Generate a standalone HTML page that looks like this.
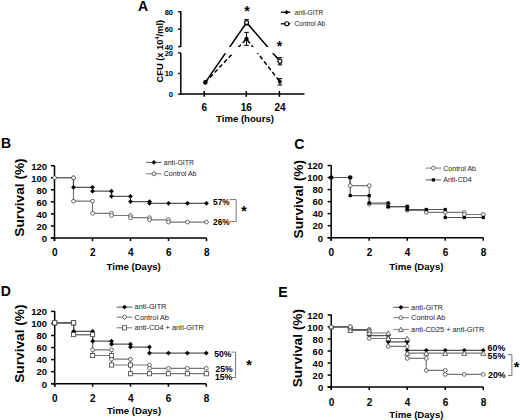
<!DOCTYPE html>
<html><head><meta charset="utf-8"><style>
html,body{margin:0;padding:0;background:#fff;width:520px;height:420px;overflow:hidden}
svg{display:block;font-family:"Liberation Sans",sans-serif}
</style></head><body>
<svg width="520" height="420" viewBox="0 0 520 420">
<rect width="520" height="420" fill="#fff"/>
<line x1="180.80" y1="11.00" x2="180.80" y2="47.00" stroke="#000" stroke-width="1.5" stroke-linecap="butt"/>
<line x1="180.80" y1="52.90" x2="180.80" y2="94.80" stroke="#000" stroke-width="1.5" stroke-linecap="butt"/>
<line x1="180.10" y1="94.10" x2="304.50" y2="94.10" stroke="#000" stroke-width="1.5" stroke-linecap="butt"/>
<line x1="178.20" y1="11.70" x2="180.80" y2="11.70" stroke="#000" stroke-width="1.5" stroke-linecap="butt"/>
<line x1="178.20" y1="29.20" x2="180.80" y2="29.20" stroke="#000" stroke-width="1.5" stroke-linecap="butt"/>
<line x1="178.20" y1="46.60" x2="180.80" y2="46.60" stroke="#000" stroke-width="1.5" stroke-linecap="butt"/>
<line x1="178.20" y1="52.90" x2="180.80" y2="52.90" stroke="#000" stroke-width="1.5" stroke-linecap="butt"/>
<line x1="178.20" y1="73.50" x2="180.80" y2="73.50" stroke="#000" stroke-width="1.5" stroke-linecap="butt"/>
<line x1="178.20" y1="94.10" x2="180.80" y2="94.10" stroke="#000" stroke-width="1.5" stroke-linecap="butt"/>
<line x1="204.20" y1="91.00" x2="204.20" y2="96.80" stroke="#000" stroke-width="1.5" stroke-linecap="butt"/>
<line x1="246.30" y1="91.00" x2="246.30" y2="96.80" stroke="#000" stroke-width="1.5" stroke-linecap="butt"/>
<line x1="279.40" y1="91.00" x2="279.40" y2="96.80" stroke="#000" stroke-width="1.5" stroke-linecap="butt"/>
<text x="173.00" y="14.60" font-size="7.5" font-weight="bold" text-anchor="end" fill="#000">80</text>
<text x="173.00" y="32.10" font-size="7.5" font-weight="bold" text-anchor="end" fill="#000">60</text>
<text x="173.00" y="49.50" font-size="7.5" font-weight="bold" text-anchor="end" fill="#000">40</text>
<text x="173.00" y="55.80" font-size="7.5" font-weight="bold" text-anchor="end" fill="#000">20</text>
<text x="173.00" y="76.40" font-size="7.5" font-weight="bold" text-anchor="end" fill="#000">10</text>
<text x="173.00" y="97.00" font-size="7.5" font-weight="bold" text-anchor="end" fill="#000">0</text>
<text x="204.20" y="110.80" font-size="10" font-weight="bold" text-anchor="middle" fill="#000">6</text>
<text x="246.30" y="110.80" font-size="10" font-weight="bold" text-anchor="middle" fill="#000">16</text>
<text x="280.00" y="110.80" font-size="10" font-weight="bold" text-anchor="middle" fill="#000">24</text>
<text x="245.00" y="122.00" font-size="9.6" font-weight="bold" text-anchor="middle" fill="#000">Time (hours)</text>
<text x="162.90" y="51.20" font-size="9.3" font-weight="bold" text-anchor="middle" fill="#000" transform="rotate(-90 162.90 51.20)">CFU (x 10<tspan font-size="5.6" dy="-3.6">4</tspan><tspan dy="3.6">/ml)</tspan></text>
<text x="138.00" y="11.10" font-size="14" font-weight="bold" text-anchor="start" fill="#000">A</text>
<g stroke="#000" stroke-width="1.5" fill="none">
<polyline points="205.3,82.4 246.6,22.6 279.9,61.3"/>
<polyline points="205.3,82.4 246.5,38.9 279.9,81.7" stroke-dasharray="4.2,2.6"/>
</g>
<rect x="182" y="47.0" width="110" height="6.2" fill="#fff"/>
<line x1="246.60" y1="19.60" x2="246.60" y2="25.00" stroke="#000" stroke-width="1.0" stroke-linecap="butt"/>
<line x1="244.30" y1="19.60" x2="248.90" y2="19.60" stroke="#000" stroke-width="1.0" stroke-linecap="butt"/>
<line x1="244.30" y1="25.00" x2="248.90" y2="25.00" stroke="#000" stroke-width="1.0" stroke-linecap="butt"/>
<line x1="246.50" y1="32.40" x2="246.50" y2="45.30" stroke="#000" stroke-width="1.0" stroke-linecap="butt"/>
<line x1="244.20" y1="32.40" x2="248.80" y2="32.40" stroke="#000" stroke-width="1.0" stroke-linecap="butt"/>
<line x1="244.20" y1="45.30" x2="248.80" y2="45.30" stroke="#000" stroke-width="1.0" stroke-linecap="butt"/>
<line x1="279.90" y1="57.70" x2="279.90" y2="64.90" stroke="#000" stroke-width="1.0" stroke-linecap="butt"/>
<line x1="277.60" y1="57.70" x2="282.20" y2="57.70" stroke="#000" stroke-width="1.0" stroke-linecap="butt"/>
<line x1="277.60" y1="64.90" x2="282.20" y2="64.90" stroke="#000" stroke-width="1.0" stroke-linecap="butt"/>
<line x1="279.90" y1="78.60" x2="279.90" y2="85.00" stroke="#000" stroke-width="1.0" stroke-linecap="butt"/>
<line x1="277.60" y1="78.60" x2="282.20" y2="78.60" stroke="#000" stroke-width="1.0" stroke-linecap="butt"/>
<line x1="277.60" y1="85.00" x2="282.20" y2="85.00" stroke="#000" stroke-width="1.0" stroke-linecap="butt"/>
<circle cx="205.30" cy="82.40" r="2.3" fill="#000"/>
<circle cx="246.60" cy="22.60" r="2.0" fill="#fff" stroke="#000" stroke-width="1.1"/>
<circle cx="246.50" cy="38.90" r="2.2" fill="#000"/>
<circle cx="279.90" cy="61.30" r="2.0" fill="#fff" stroke="#000" stroke-width="1.1"/>
<circle cx="279.90" cy="81.70" r="1.9" fill="#000"/>
<text x="247.10" y="15.50" font-size="14" font-weight="bold" text-anchor="middle" fill="#000">*</text>
<text x="279.40" y="51.00" font-size="14" font-weight="bold" text-anchor="middle" fill="#000">*</text>
<line x1="280.80" y1="12.20" x2="290.40" y2="12.20" stroke="#000" stroke-width="1.3" stroke-linecap="butt"/>
<path d="M286.60,10.00L288.80,12.20L286.60,14.40L284.40,12.20Z" fill="#000"/>
<line x1="280.80" y1="23.80" x2="290.40" y2="23.80" stroke="#000" stroke-width="1.3" stroke-linecap="butt"/>
<circle cx="286.80" cy="23.80" r="2.0" fill="#fff" stroke="#000" stroke-width="1.1"/>
<text x="294.80" y="14.90" font-size="6.6" font-weight="normal" text-anchor="start" fill="#222">anti-GITR</text>
<text x="294.50" y="26.40" font-size="6.6" font-weight="normal" text-anchor="start" fill="#222">Control Ab</text>
<line x1="54.50" y1="165.40" x2="54.50" y2="241.00" stroke="#000" stroke-width="1.5" stroke-linecap="butt"/>
<line x1="50.90" y1="238.00" x2="206.50" y2="238.00" stroke="#000" stroke-width="1.5" stroke-linecap="butt"/>
<line x1="50.90" y1="238.00" x2="54.50" y2="238.00" stroke="#000" stroke-width="1.5" stroke-linecap="butt"/>
<text x="47.10" y="241.80" font-size="9.5" font-weight="bold" text-anchor="end" fill="#000">0</text>
<line x1="50.90" y1="225.95" x2="54.50" y2="225.95" stroke="#000" stroke-width="1.5" stroke-linecap="butt"/>
<text x="47.10" y="229.75" font-size="9.5" font-weight="bold" text-anchor="end" fill="#000">20</text>
<line x1="50.90" y1="213.90" x2="54.50" y2="213.90" stroke="#000" stroke-width="1.5" stroke-linecap="butt"/>
<text x="47.10" y="217.70" font-size="9.5" font-weight="bold" text-anchor="end" fill="#000">40</text>
<line x1="50.90" y1="201.85" x2="54.50" y2="201.85" stroke="#000" stroke-width="1.5" stroke-linecap="butt"/>
<text x="47.10" y="205.65" font-size="9.5" font-weight="bold" text-anchor="end" fill="#000">60</text>
<line x1="50.90" y1="189.80" x2="54.50" y2="189.80" stroke="#000" stroke-width="1.5" stroke-linecap="butt"/>
<text x="47.10" y="193.60" font-size="9.5" font-weight="bold" text-anchor="end" fill="#000">80</text>
<line x1="50.90" y1="177.75" x2="54.50" y2="177.75" stroke="#000" stroke-width="1.5" stroke-linecap="butt"/>
<text x="47.10" y="181.55" font-size="9.5" font-weight="bold" text-anchor="end" fill="#000">100</text>
<line x1="50.90" y1="165.70" x2="54.50" y2="165.70" stroke="#000" stroke-width="1.5" stroke-linecap="butt"/>
<text x="47.10" y="169.50" font-size="9.5" font-weight="bold" text-anchor="end" fill="#000">120</text>
<line x1="54.50" y1="238.00" x2="54.50" y2="241.00" stroke="#000" stroke-width="1.5" stroke-linecap="butt"/>
<text x="54.70" y="256.20" font-size="10" font-weight="bold" text-anchor="middle" fill="#000">0</text>
<line x1="92.50" y1="238.00" x2="92.50" y2="241.00" stroke="#000" stroke-width="1.5" stroke-linecap="butt"/>
<text x="92.70" y="256.20" font-size="10" font-weight="bold" text-anchor="middle" fill="#000">2</text>
<line x1="130.50" y1="238.00" x2="130.50" y2="241.00" stroke="#000" stroke-width="1.5" stroke-linecap="butt"/>
<text x="130.70" y="256.20" font-size="10" font-weight="bold" text-anchor="middle" fill="#000">4</text>
<line x1="168.50" y1="238.00" x2="168.50" y2="241.00" stroke="#000" stroke-width="1.5" stroke-linecap="butt"/>
<text x="168.70" y="256.20" font-size="10" font-weight="bold" text-anchor="middle" fill="#000">6</text>
<line x1="206.50" y1="238.00" x2="206.50" y2="241.00" stroke="#000" stroke-width="1.5" stroke-linecap="butt"/>
<text x="206.70" y="256.20" font-size="10" font-weight="bold" text-anchor="middle" fill="#000">8</text>
<text x="0.90" y="148.10" font-size="14" font-weight="bold" text-anchor="start" fill="#000">B</text>
<text x="23.80" y="197.50" font-size="13.7" font-weight="bold" text-anchor="middle" fill="#000" transform="rotate(-90 23.80 197.50)">Survival (%)</text>
<text x="133.70" y="269.60" font-size="9.6" font-weight="bold" text-anchor="middle" fill="#000">Time (Days)</text>
<polyline points="54.50,177.75 73.50,177.75 73.50,201.10 92.50,201.10 92.50,213.30 111.50,213.30 111.50,215.50 130.50,215.50 130.50,217.70 149.50,217.70 149.50,219.80 168.50,219.80 168.50,222.10 187.50,222.10 187.50,222.10 206.50,222.10 206.50,222.10" fill="none" stroke="#777" stroke-width="1.2"/>
<polyline points="54.50,177.75 73.50,177.75 73.50,187.30 92.50,187.30 92.50,191.20 111.50,191.20 111.50,196.30 130.50,196.30 130.50,201.60 149.50,201.60 149.50,203.30 168.50,203.30 168.50,203.30 187.50,203.30 187.50,203.30 206.50,203.30 206.50,203.30" fill="none" stroke="#555" stroke-width="1.2"/>
<path d="M73.50,175.35L75.90,177.75L73.50,180.15L71.10,177.75Z" fill="#000"/>
<path d="M92.50,184.90L94.90,187.30L92.50,189.70L90.10,187.30Z" fill="#000"/>
<path d="M92.50,188.80L94.90,191.20L92.50,193.60L90.10,191.20Z" fill="#000"/>
<path d="M111.50,188.80L113.90,191.20L111.50,193.60L109.10,191.20Z" fill="#000"/>
<path d="M111.50,193.90L113.90,196.30L111.50,198.70L109.10,196.30Z" fill="#000"/>
<path d="M130.50,193.90L132.90,196.30L130.50,198.70L128.10,196.30Z" fill="#000"/>
<path d="M130.50,199.20L132.90,201.60L130.50,204.00L128.10,201.60Z" fill="#000"/>
<path d="M149.50,199.20L151.90,201.60L149.50,204.00L147.10,201.60Z" fill="#000"/>
<path d="M149.50,200.90L151.90,203.30L149.50,205.70L147.10,203.30Z" fill="#000"/>
<path d="M168.50,200.90L170.90,203.30L168.50,205.70L166.10,203.30Z" fill="#000"/>
<path d="M187.50,200.90L189.90,203.30L187.50,205.70L185.10,203.30Z" fill="#000"/>
<path d="M206.50,200.90L208.90,203.30L206.50,205.70L204.10,203.30Z" fill="#000"/>
<path d="M73.50,184.90L75.90,187.30L73.50,189.70L71.10,187.30Z" fill="#000"/>
<circle cx="54.50" cy="177.75" r="1.9" fill="#fff" stroke="#444" stroke-width="0.8"/>
<circle cx="73.50" cy="177.75" r="1.9" fill="#fff" stroke="#444" stroke-width="0.8"/>
<circle cx="73.50" cy="201.10" r="1.9" fill="#fff" stroke="#444" stroke-width="0.8"/>
<circle cx="92.50" cy="201.10" r="1.9" fill="#fff" stroke="#444" stroke-width="0.8"/>
<circle cx="92.50" cy="213.30" r="1.9" fill="#fff" stroke="#444" stroke-width="0.8"/>
<circle cx="111.50" cy="213.30" r="1.9" fill="#fff" stroke="#444" stroke-width="0.8"/>
<circle cx="111.50" cy="215.50" r="1.9" fill="#fff" stroke="#444" stroke-width="0.8"/>
<circle cx="130.50" cy="215.50" r="1.9" fill="#fff" stroke="#444" stroke-width="0.8"/>
<circle cx="130.50" cy="217.70" r="1.9" fill="#fff" stroke="#444" stroke-width="0.8"/>
<circle cx="149.50" cy="217.70" r="1.9" fill="#fff" stroke="#444" stroke-width="0.8"/>
<circle cx="149.50" cy="219.80" r="1.9" fill="#fff" stroke="#444" stroke-width="0.8"/>
<circle cx="168.50" cy="219.80" r="1.9" fill="#fff" stroke="#444" stroke-width="0.8"/>
<circle cx="168.50" cy="222.10" r="1.9" fill="#fff" stroke="#444" stroke-width="0.8"/>
<circle cx="187.50" cy="222.10" r="1.9" fill="#fff" stroke="#444" stroke-width="0.8"/>
<circle cx="206.50" cy="222.10" r="1.9" fill="#fff" stroke="#444" stroke-width="0.8"/>
<line x1="146.20" y1="162.40" x2="161.40" y2="162.40" stroke="#555" stroke-width="1" stroke-linecap="butt"/>
<path d="M153.90,160.00L156.30,162.40L153.90,164.80L151.50,162.40Z" fill="#000"/>
<line x1="146.20" y1="173.80" x2="161.40" y2="173.80" stroke="#777" stroke-width="1" stroke-linecap="butt"/>
<circle cx="153.90" cy="173.80" r="1.9" fill="#fff" stroke="#444" stroke-width="0.8"/>
<text x="163.80" y="164.90" font-size="7.0" font-weight="normal" text-anchor="start" fill="#222">anti-GITR</text>
<text x="163.80" y="176.30" font-size="7.0" font-weight="normal" text-anchor="start" fill="#222">Control Ab</text>
<text x="213.10" y="205.40" font-size="8.3" font-weight="bold" text-anchor="start" fill="#000">57%</text>
<text x="213.10" y="224.50" font-size="8.3" font-weight="bold" text-anchor="start" fill="#000">26%</text>
<polyline points="229.6,199.6 236.2,199.6 236.2,221.6 229.6,221.6" fill="none" stroke="#777" stroke-width="1"/>
<text x="243.90" y="216.00" font-size="14" font-weight="bold" text-anchor="middle" fill="#000">*</text>
<line x1="331.20" y1="165.22" x2="331.20" y2="240.70" stroke="#000" stroke-width="1.5" stroke-linecap="butt"/>
<line x1="327.60" y1="237.70" x2="483.28" y2="237.70" stroke="#000" stroke-width="1.5" stroke-linecap="butt"/>
<line x1="327.60" y1="237.70" x2="331.20" y2="237.70" stroke="#000" stroke-width="1.5" stroke-linecap="butt"/>
<text x="323.10" y="241.50" font-size="9.5" font-weight="bold" text-anchor="end" fill="#000">0</text>
<line x1="327.60" y1="225.67" x2="331.20" y2="225.67" stroke="#000" stroke-width="1.5" stroke-linecap="butt"/>
<text x="323.10" y="229.47" font-size="9.5" font-weight="bold" text-anchor="end" fill="#000">20</text>
<line x1="327.60" y1="213.64" x2="331.20" y2="213.64" stroke="#000" stroke-width="1.5" stroke-linecap="butt"/>
<text x="323.10" y="217.44" font-size="9.5" font-weight="bold" text-anchor="end" fill="#000">40</text>
<line x1="327.60" y1="201.61" x2="331.20" y2="201.61" stroke="#000" stroke-width="1.5" stroke-linecap="butt"/>
<text x="323.10" y="205.41" font-size="9.5" font-weight="bold" text-anchor="end" fill="#000">60</text>
<line x1="327.60" y1="189.58" x2="331.20" y2="189.58" stroke="#000" stroke-width="1.5" stroke-linecap="butt"/>
<text x="323.10" y="193.38" font-size="9.5" font-weight="bold" text-anchor="end" fill="#000">80</text>
<line x1="327.60" y1="177.55" x2="331.20" y2="177.55" stroke="#000" stroke-width="1.5" stroke-linecap="butt"/>
<text x="323.10" y="181.35" font-size="9.5" font-weight="bold" text-anchor="end" fill="#000">100</text>
<line x1="327.60" y1="165.52" x2="331.20" y2="165.52" stroke="#000" stroke-width="1.5" stroke-linecap="butt"/>
<text x="323.10" y="169.32" font-size="9.5" font-weight="bold" text-anchor="end" fill="#000">120</text>
<line x1="331.20" y1="237.70" x2="331.20" y2="240.70" stroke="#000" stroke-width="1.5" stroke-linecap="butt"/>
<text x="331.40" y="256.00" font-size="10" font-weight="bold" text-anchor="middle" fill="#000">0</text>
<line x1="369.22" y1="237.70" x2="369.22" y2="240.70" stroke="#000" stroke-width="1.5" stroke-linecap="butt"/>
<text x="369.42" y="256.00" font-size="10" font-weight="bold" text-anchor="middle" fill="#000">2</text>
<line x1="407.24" y1="237.70" x2="407.24" y2="240.70" stroke="#000" stroke-width="1.5" stroke-linecap="butt"/>
<text x="407.44" y="256.00" font-size="10" font-weight="bold" text-anchor="middle" fill="#000">4</text>
<line x1="445.26" y1="237.70" x2="445.26" y2="240.70" stroke="#000" stroke-width="1.5" stroke-linecap="butt"/>
<text x="445.46" y="256.00" font-size="10" font-weight="bold" text-anchor="middle" fill="#000">6</text>
<line x1="483.28" y1="237.70" x2="483.28" y2="240.70" stroke="#000" stroke-width="1.5" stroke-linecap="butt"/>
<text x="483.48" y="256.00" font-size="10" font-weight="bold" text-anchor="middle" fill="#000">8</text>
<text x="294.20" y="148.90" font-size="14" font-weight="bold" text-anchor="start" fill="#000">C</text>
<text x="302.90" y="199.20" font-size="13.7" font-weight="bold" text-anchor="middle" fill="#000" transform="rotate(-90 302.90 199.20)">Survival (%)</text>
<text x="416.40" y="269.60" font-size="9.6" font-weight="bold" text-anchor="middle" fill="#000">Time (Days)</text>
<polyline points="331.20,177.50 350.21,177.50 350.21,185.60 369.22,185.60 369.22,204.00 388.23,204.00 388.23,206.90 407.24,206.90 407.24,210.30 426.25,210.30 426.25,212.40 445.26,212.40 445.26,212.40 464.27,212.40 464.27,214.50 483.28,214.50 483.28,214.50" fill="none" stroke="#777" stroke-width="1.2"/>
<polyline points="331.20,177.50 350.21,177.50 350.21,195.60 369.22,195.60 369.22,203.00 388.23,203.00 388.23,206.50 407.24,206.50 407.24,209.50 426.25,209.50 426.25,209.50 445.26,209.50 445.26,217.50 464.27,217.50 464.27,217.50 483.28,217.50 483.28,217.50" fill="none" stroke="#555" stroke-width="1.2"/>
<circle cx="331.20" cy="177.50" r="1.9" fill="#fff" stroke="#444" stroke-width="0.8"/>
<circle cx="350.21" cy="177.50" r="1.9" fill="#fff" stroke="#444" stroke-width="0.8"/>
<circle cx="350.21" cy="185.60" r="1.9" fill="#fff" stroke="#444" stroke-width="0.8"/>
<circle cx="369.22" cy="185.60" r="1.9" fill="#fff" stroke="#444" stroke-width="0.8"/>
<circle cx="369.22" cy="204.00" r="1.9" fill="#fff" stroke="#444" stroke-width="0.8"/>
<circle cx="388.23" cy="204.00" r="1.9" fill="#fff" stroke="#444" stroke-width="0.8"/>
<circle cx="388.23" cy="206.90" r="1.9" fill="#fff" stroke="#444" stroke-width="0.8"/>
<circle cx="407.24" cy="206.90" r="1.9" fill="#fff" stroke="#444" stroke-width="0.8"/>
<circle cx="407.24" cy="210.30" r="1.9" fill="#fff" stroke="#444" stroke-width="0.8"/>
<circle cx="426.25" cy="210.30" r="1.9" fill="#fff" stroke="#444" stroke-width="0.8"/>
<circle cx="426.25" cy="212.40" r="1.9" fill="#fff" stroke="#444" stroke-width="0.8"/>
<circle cx="445.26" cy="212.40" r="1.9" fill="#fff" stroke="#444" stroke-width="0.8"/>
<circle cx="464.27" cy="212.40" r="1.9" fill="#fff" stroke="#444" stroke-width="0.8"/>
<circle cx="464.27" cy="214.50" r="1.9" fill="#fff" stroke="#444" stroke-width="0.8"/>
<circle cx="483.28" cy="214.50" r="1.9" fill="#fff" stroke="#444" stroke-width="0.8"/>
<rect x="329.60" y="175.90" width="3.2" height="3.2" fill="#000"/>
<rect x="348.61" y="175.90" width="3.2" height="3.2" fill="#000"/>
<rect x="348.61" y="194.00" width="3.2" height="3.2" fill="#000"/>
<rect x="367.62" y="194.00" width="3.2" height="3.2" fill="#000"/>
<rect x="367.62" y="201.40" width="3.2" height="3.2" fill="#000"/>
<rect x="386.63" y="201.40" width="3.2" height="3.2" fill="#000"/>
<rect x="386.63" y="204.90" width="3.2" height="3.2" fill="#000"/>
<rect x="405.64" y="204.90" width="3.2" height="3.2" fill="#000"/>
<rect x="405.64" y="207.90" width="3.2" height="3.2" fill="#000"/>
<rect x="424.65" y="207.90" width="3.2" height="3.2" fill="#000"/>
<rect x="443.66" y="207.90" width="3.2" height="3.2" fill="#000"/>
<rect x="443.66" y="215.90" width="3.2" height="3.2" fill="#000"/>
<rect x="462.67" y="215.90" width="3.2" height="3.2" fill="#000"/>
<rect x="481.68" y="215.90" width="3.2" height="3.2" fill="#000"/>
<circle cx="331.20" cy="177.50" r="2.0" fill="#000"/>
<circle cx="350.21" cy="177.50" r="2.0" fill="#000"/>
<line x1="425.80" y1="168.10" x2="441.20" y2="168.10" stroke="#777" stroke-width="1" stroke-linecap="butt"/>
<circle cx="433.40" cy="168.10" r="1.9" fill="#fff" stroke="#444" stroke-width="0.8"/>
<line x1="425.80" y1="179.90" x2="441.20" y2="179.90" stroke="#555" stroke-width="1" stroke-linecap="butt"/>
<rect x="431.80" y="178.30" width="3.2" height="3.2" fill="#000"/>
<text x="443.30" y="170.60" font-size="7.0" font-weight="normal" text-anchor="start" fill="#222">Control Ab</text>
<text x="443.30" y="182.40" font-size="7.0" font-weight="normal" text-anchor="start" fill="#222">Anti-CD4</text>
<line x1="54.70" y1="311.10" x2="54.70" y2="386.70" stroke="#000" stroke-width="1.5" stroke-linecap="butt"/>
<line x1="51.10" y1="383.70" x2="206.30" y2="383.70" stroke="#000" stroke-width="1.5" stroke-linecap="butt"/>
<line x1="51.10" y1="383.70" x2="54.70" y2="383.70" stroke="#000" stroke-width="1.5" stroke-linecap="butt"/>
<text x="47.10" y="387.50" font-size="9.5" font-weight="bold" text-anchor="end" fill="#000">0</text>
<line x1="51.10" y1="371.65" x2="54.70" y2="371.65" stroke="#000" stroke-width="1.5" stroke-linecap="butt"/>
<text x="47.10" y="375.45" font-size="9.5" font-weight="bold" text-anchor="end" fill="#000">20</text>
<line x1="51.10" y1="359.60" x2="54.70" y2="359.60" stroke="#000" stroke-width="1.5" stroke-linecap="butt"/>
<text x="47.10" y="363.40" font-size="9.5" font-weight="bold" text-anchor="end" fill="#000">40</text>
<line x1="51.10" y1="347.55" x2="54.70" y2="347.55" stroke="#000" stroke-width="1.5" stroke-linecap="butt"/>
<text x="47.10" y="351.35" font-size="9.5" font-weight="bold" text-anchor="end" fill="#000">60</text>
<line x1="51.10" y1="335.50" x2="54.70" y2="335.50" stroke="#000" stroke-width="1.5" stroke-linecap="butt"/>
<text x="47.10" y="339.30" font-size="9.5" font-weight="bold" text-anchor="end" fill="#000">80</text>
<line x1="51.10" y1="323.45" x2="54.70" y2="323.45" stroke="#000" stroke-width="1.5" stroke-linecap="butt"/>
<text x="47.10" y="327.25" font-size="9.5" font-weight="bold" text-anchor="end" fill="#000">100</text>
<line x1="51.10" y1="311.40" x2="54.70" y2="311.40" stroke="#000" stroke-width="1.5" stroke-linecap="butt"/>
<text x="47.10" y="315.20" font-size="9.5" font-weight="bold" text-anchor="end" fill="#000">120</text>
<line x1="54.70" y1="383.70" x2="54.70" y2="386.70" stroke="#000" stroke-width="1.5" stroke-linecap="butt"/>
<text x="54.90" y="401.50" font-size="10" font-weight="bold" text-anchor="middle" fill="#000">0</text>
<line x1="92.60" y1="383.70" x2="92.60" y2="386.70" stroke="#000" stroke-width="1.5" stroke-linecap="butt"/>
<text x="92.80" y="401.50" font-size="10" font-weight="bold" text-anchor="middle" fill="#000">2</text>
<line x1="130.50" y1="383.70" x2="130.50" y2="386.70" stroke="#000" stroke-width="1.5" stroke-linecap="butt"/>
<text x="130.70" y="401.50" font-size="10" font-weight="bold" text-anchor="middle" fill="#000">4</text>
<line x1="168.40" y1="383.70" x2="168.40" y2="386.70" stroke="#000" stroke-width="1.5" stroke-linecap="butt"/>
<text x="168.60" y="401.50" font-size="10" font-weight="bold" text-anchor="middle" fill="#000">6</text>
<line x1="206.30" y1="383.70" x2="206.30" y2="386.70" stroke="#000" stroke-width="1.5" stroke-linecap="butt"/>
<text x="206.50" y="401.50" font-size="10" font-weight="bold" text-anchor="middle" fill="#000">8</text>
<text x="0.85" y="296.10" font-size="14" font-weight="bold" text-anchor="start" fill="#000">D</text>
<text x="23.80" y="343.60" font-size="13.7" font-weight="bold" text-anchor="middle" fill="#000" transform="rotate(-90 23.80 343.60)">Survival (%)</text>
<text x="134.00" y="413.60" font-size="9.6" font-weight="bold" text-anchor="middle" fill="#000">Time (Days)</text>
<polyline points="54.70,322.80 73.65,322.80 73.65,334.60 92.60,334.60 92.60,355.50 111.55,355.50 111.55,365.00 130.50,365.00 130.50,373.70 149.45,373.70 149.45,373.70 168.40,373.70 168.40,373.70 187.35,373.70 187.35,373.70 206.30,373.70 206.30,373.70" fill="none" stroke="#777" stroke-width="1.2"/>
<polyline points="54.70,322.80 73.65,322.80 73.65,334.60 92.60,334.60 92.60,349.80 111.55,349.80 111.55,359.20 130.50,359.20 130.50,365.00 149.45,365.00 149.45,368.30 168.40,368.30 168.40,368.30 187.35,368.30 187.35,368.30 206.30,368.30 206.30,368.30" fill="none" stroke="#777" stroke-width="1.2"/>
<polyline points="54.70,322.80 73.65,322.80 73.65,331.30 92.60,331.30 92.60,341.20 111.55,341.20 111.55,344.20 130.50,344.20 130.50,347.10 149.45,347.10 149.45,353.10 168.40,353.10 168.40,353.10 187.35,353.10 187.35,353.10 206.30,353.10 206.30,353.10" fill="none" stroke="#555" stroke-width="1.2"/>
<path d="M54.70,320.40L57.10,322.80L54.70,325.20L52.30,322.80Z" fill="#000"/>
<path d="M73.65,320.40L76.05,322.80L73.65,325.20L71.25,322.80Z" fill="#000"/>
<path d="M73.65,328.90L76.05,331.30L73.65,333.70L71.25,331.30Z" fill="#000"/>
<path d="M92.60,328.90L95.00,331.30L92.60,333.70L90.20,331.30Z" fill="#000"/>
<path d="M92.60,338.80L95.00,341.20L92.60,343.60L90.20,341.20Z" fill="#000"/>
<path d="M111.55,338.80L113.95,341.20L111.55,343.60L109.15,341.20Z" fill="#000"/>
<path d="M111.55,341.80L113.95,344.20L111.55,346.60L109.15,344.20Z" fill="#000"/>
<path d="M130.50,341.80L132.90,344.20L130.50,346.60L128.10,344.20Z" fill="#000"/>
<path d="M130.50,344.70L132.90,347.10L130.50,349.50L128.10,347.10Z" fill="#000"/>
<path d="M149.45,344.70L151.85,347.10L149.45,349.50L147.05,347.10Z" fill="#000"/>
<path d="M149.45,350.70L151.85,353.10L149.45,355.50L147.05,353.10Z" fill="#000"/>
<path d="M168.40,350.70L170.80,353.10L168.40,355.50L166.00,353.10Z" fill="#000"/>
<path d="M187.35,350.70L189.75,353.10L187.35,355.50L184.95,353.10Z" fill="#000"/>
<path d="M206.30,350.70L208.70,353.10L206.30,355.50L203.90,353.10Z" fill="#000"/>
<circle cx="54.70" cy="322.80" r="1.9" fill="#fff" stroke="#444" stroke-width="0.8"/>
<circle cx="73.65" cy="322.80" r="1.9" fill="#fff" stroke="#444" stroke-width="0.8"/>
<circle cx="73.65" cy="334.60" r="1.9" fill="#fff" stroke="#444" stroke-width="0.8"/>
<circle cx="92.60" cy="334.60" r="1.9" fill="#fff" stroke="#444" stroke-width="0.8"/>
<circle cx="92.60" cy="349.80" r="1.9" fill="#fff" stroke="#444" stroke-width="0.8"/>
<circle cx="111.55" cy="349.80" r="1.9" fill="#fff" stroke="#444" stroke-width="0.8"/>
<circle cx="111.55" cy="359.20" r="1.9" fill="#fff" stroke="#444" stroke-width="0.8"/>
<circle cx="130.50" cy="359.20" r="1.9" fill="#fff" stroke="#444" stroke-width="0.8"/>
<circle cx="130.50" cy="365.00" r="1.9" fill="#fff" stroke="#444" stroke-width="0.8"/>
<circle cx="149.45" cy="365.00" r="1.9" fill="#fff" stroke="#444" stroke-width="0.8"/>
<circle cx="149.45" cy="368.30" r="1.9" fill="#fff" stroke="#444" stroke-width="0.8"/>
<circle cx="168.40" cy="368.30" r="1.9" fill="#fff" stroke="#444" stroke-width="0.8"/>
<circle cx="187.35" cy="368.30" r="1.9" fill="#fff" stroke="#444" stroke-width="0.8"/>
<circle cx="206.30" cy="368.30" r="1.9" fill="#fff" stroke="#444" stroke-width="0.8"/>
<rect x="52.60" y="320.70" width="4.2" height="4.2" fill="#fff" stroke="#444" stroke-width="0.8"/>
<rect x="71.55" y="320.70" width="4.2" height="4.2" fill="#fff" stroke="#444" stroke-width="0.8"/>
<rect x="71.55" y="332.50" width="4.2" height="4.2" fill="#fff" stroke="#444" stroke-width="0.8"/>
<rect x="90.50" y="332.50" width="4.2" height="4.2" fill="#fff" stroke="#444" stroke-width="0.8"/>
<rect x="90.50" y="353.40" width="4.2" height="4.2" fill="#fff" stroke="#444" stroke-width="0.8"/>
<rect x="109.45" y="353.40" width="4.2" height="4.2" fill="#fff" stroke="#444" stroke-width="0.8"/>
<rect x="109.45" y="362.90" width="4.2" height="4.2" fill="#fff" stroke="#444" stroke-width="0.8"/>
<rect x="128.40" y="362.90" width="4.2" height="4.2" fill="#fff" stroke="#444" stroke-width="0.8"/>
<rect x="128.40" y="371.60" width="4.2" height="4.2" fill="#fff" stroke="#444" stroke-width="0.8"/>
<rect x="147.35" y="371.60" width="4.2" height="4.2" fill="#fff" stroke="#444" stroke-width="0.8"/>
<rect x="166.30" y="371.60" width="4.2" height="4.2" fill="#fff" stroke="#444" stroke-width="0.8"/>
<rect x="185.25" y="371.60" width="4.2" height="4.2" fill="#fff" stroke="#444" stroke-width="0.8"/>
<rect x="204.20" y="371.60" width="4.2" height="4.2" fill="#fff" stroke="#444" stroke-width="0.8"/>
<rect x="52.60" y="320.70" width="4.2" height="4.2" fill="#fff" stroke="#444" stroke-width="0.8"/>
<rect x="71.55" y="320.70" width="4.2" height="4.2" fill="#fff" stroke="#444" stroke-width="0.8"/>
<line x1="116.60" y1="307.10" x2="132.50" y2="307.10" stroke="#555" stroke-width="1" stroke-linecap="butt"/>
<path d="M124.50,304.70L126.90,307.10L124.50,309.50L122.10,307.10Z" fill="#000"/>
<line x1="116.60" y1="317.20" x2="132.50" y2="317.20" stroke="#777" stroke-width="1" stroke-linecap="butt"/>
<circle cx="124.50" cy="317.20" r="1.9" fill="#fff" stroke="#444" stroke-width="0.8"/>
<line x1="116.60" y1="327.80" x2="132.50" y2="327.80" stroke="#777" stroke-width="1" stroke-linecap="butt"/>
<rect x="122.40" y="325.70" width="4.2" height="4.2" fill="#fff" stroke="#444" stroke-width="0.8"/>
<text x="134.60" y="309.40" font-size="7.35" font-weight="normal" text-anchor="start" fill="#222">anti-GITR</text>
<text x="134.60" y="319.50" font-size="7.35" font-weight="normal" text-anchor="start" fill="#222">Control Ab</text>
<text x="134.60" y="330.10" font-size="7.35" font-weight="normal" text-anchor="start" fill="#222">anti-CD4 + anti-GITR</text>
<text x="214.30" y="356.90" font-size="8.6" font-weight="bold" text-anchor="start" fill="#000">50%</text>
<text x="215.40" y="371.90" font-size="8.6" font-weight="bold" text-anchor="start" fill="#000">25%</text>
<text x="215.00" y="380.00" font-size="8.6" font-weight="bold" text-anchor="start" fill="#000">15%</text>
<polyline points="231.3,352.1 235.6,352.1 235.6,377.5 231.9,377.5" fill="none" stroke="#777" stroke-width="1"/>
<text x="249.00" y="370.30" font-size="14.5" font-weight="bold" text-anchor="middle" fill="#000">*</text>
<line x1="331.25" y1="314.62" x2="331.25" y2="390.10" stroke="#000" stroke-width="1.5" stroke-linecap="butt"/>
<line x1="327.65" y1="387.10" x2="483.25" y2="387.10" stroke="#000" stroke-width="1.5" stroke-linecap="butt"/>
<line x1="327.65" y1="387.10" x2="331.25" y2="387.10" stroke="#000" stroke-width="1.5" stroke-linecap="butt"/>
<text x="323.20" y="390.90" font-size="9.5" font-weight="bold" text-anchor="end" fill="#000">0</text>
<line x1="327.65" y1="375.07" x2="331.25" y2="375.07" stroke="#000" stroke-width="1.5" stroke-linecap="butt"/>
<text x="323.20" y="378.87" font-size="9.5" font-weight="bold" text-anchor="end" fill="#000">20</text>
<line x1="327.65" y1="363.04" x2="331.25" y2="363.04" stroke="#000" stroke-width="1.5" stroke-linecap="butt"/>
<text x="323.20" y="366.84" font-size="9.5" font-weight="bold" text-anchor="end" fill="#000">40</text>
<line x1="327.65" y1="351.01" x2="331.25" y2="351.01" stroke="#000" stroke-width="1.5" stroke-linecap="butt"/>
<text x="323.20" y="354.81" font-size="9.5" font-weight="bold" text-anchor="end" fill="#000">60</text>
<line x1="327.65" y1="338.98" x2="331.25" y2="338.98" stroke="#000" stroke-width="1.5" stroke-linecap="butt"/>
<text x="323.20" y="342.78" font-size="9.5" font-weight="bold" text-anchor="end" fill="#000">80</text>
<line x1="327.65" y1="326.95" x2="331.25" y2="326.95" stroke="#000" stroke-width="1.5" stroke-linecap="butt"/>
<text x="323.20" y="330.75" font-size="9.5" font-weight="bold" text-anchor="end" fill="#000">100</text>
<line x1="327.65" y1="314.92" x2="331.25" y2="314.92" stroke="#000" stroke-width="1.5" stroke-linecap="butt"/>
<text x="323.20" y="318.72" font-size="9.5" font-weight="bold" text-anchor="end" fill="#000">120</text>
<line x1="331.25" y1="387.10" x2="331.25" y2="390.10" stroke="#000" stroke-width="1.5" stroke-linecap="butt"/>
<text x="331.45" y="405.60" font-size="10" font-weight="bold" text-anchor="middle" fill="#000">0</text>
<line x1="369.25" y1="387.10" x2="369.25" y2="390.10" stroke="#000" stroke-width="1.5" stroke-linecap="butt"/>
<text x="369.45" y="405.60" font-size="10" font-weight="bold" text-anchor="middle" fill="#000">2</text>
<line x1="407.25" y1="387.10" x2="407.25" y2="390.10" stroke="#000" stroke-width="1.5" stroke-linecap="butt"/>
<text x="407.45" y="405.60" font-size="10" font-weight="bold" text-anchor="middle" fill="#000">4</text>
<line x1="445.25" y1="387.10" x2="445.25" y2="390.10" stroke="#000" stroke-width="1.5" stroke-linecap="butt"/>
<text x="445.45" y="405.60" font-size="10" font-weight="bold" text-anchor="middle" fill="#000">6</text>
<line x1="483.25" y1="387.10" x2="483.25" y2="390.10" stroke="#000" stroke-width="1.5" stroke-linecap="butt"/>
<text x="483.45" y="405.60" font-size="10" font-weight="bold" text-anchor="middle" fill="#000">8</text>
<text x="278.30" y="296.50" font-size="14" font-weight="bold" text-anchor="start" fill="#000">E</text>
<text x="301.70" y="348.10" font-size="13.7" font-weight="bold" text-anchor="middle" fill="#000" transform="rotate(-90 301.70 348.10)">Survival (%)</text>
<text x="416.40" y="417.80" font-size="9.6" font-weight="bold" text-anchor="middle" fill="#000">Time (Days)</text>
<polyline points="331.25,326.90 350.25,326.90 350.25,329.50 369.25,329.50 369.25,338.50 388.25,338.50 388.25,346.40 407.25,346.40 407.25,358.40 426.25,358.40 426.25,370.40 445.25,370.40 445.25,374.40 464.25,374.40 464.25,374.40 483.25,374.40 483.25,374.40" fill="none" stroke="#777" stroke-width="1.2"/>
<polyline points="331.25,326.90 350.25,326.90 350.25,330.30 369.25,330.30 369.25,333.00 388.25,333.00 388.25,338.50 407.25,338.50 407.25,353.20 426.25,353.20 426.25,353.20 445.25,353.20 445.25,353.20 464.25,353.20 464.25,353.20 483.25,353.20 483.25,353.20" fill="none" stroke="#777" stroke-width="1.2"/>
<polyline points="331.25,326.90 350.25,326.90 350.25,329.70 369.25,329.70 369.25,335.60 388.25,335.60 388.25,341.80 407.25,341.80 407.25,350.30 426.25,350.30 426.25,350.30 445.25,350.30 445.25,350.30 464.25,350.30 464.25,350.30 483.25,350.30 483.25,350.30" fill="none" stroke="#555" stroke-width="1.2"/>
<path d="M331.25,324.50L333.65,326.90L331.25,329.30L328.85,326.90Z" fill="#000"/>
<path d="M350.25,324.50L352.65,326.90L350.25,329.30L347.85,326.90Z" fill="#000"/>
<path d="M350.25,327.30L352.65,329.70L350.25,332.10L347.85,329.70Z" fill="#000"/>
<path d="M369.25,327.30L371.65,329.70L369.25,332.10L366.85,329.70Z" fill="#000"/>
<path d="M369.25,333.20L371.65,335.60L369.25,338.00L366.85,335.60Z" fill="#000"/>
<path d="M388.25,333.20L390.65,335.60L388.25,338.00L385.85,335.60Z" fill="#000"/>
<path d="M388.25,339.40L390.65,341.80L388.25,344.20L385.85,341.80Z" fill="#000"/>
<path d="M407.25,339.40L409.65,341.80L407.25,344.20L404.85,341.80Z" fill="#000"/>
<path d="M407.25,347.90L409.65,350.30L407.25,352.70L404.85,350.30Z" fill="#000"/>
<path d="M426.25,347.90L428.65,350.30L426.25,352.70L423.85,350.30Z" fill="#000"/>
<path d="M445.25,347.90L447.65,350.30L445.25,352.70L442.85,350.30Z" fill="#000"/>
<path d="M464.25,347.90L466.65,350.30L464.25,352.70L461.85,350.30Z" fill="#000"/>
<path d="M483.25,347.90L485.65,350.30L483.25,352.70L480.85,350.30Z" fill="#000"/>
<circle cx="331.25" cy="326.90" r="1.9" fill="#fff" stroke="#444" stroke-width="0.8"/>
<circle cx="350.25" cy="326.90" r="1.9" fill="#fff" stroke="#444" stroke-width="0.8"/>
<circle cx="350.25" cy="329.50" r="1.9" fill="#fff" stroke="#444" stroke-width="0.8"/>
<circle cx="369.25" cy="329.50" r="1.9" fill="#fff" stroke="#444" stroke-width="0.8"/>
<circle cx="369.25" cy="338.50" r="1.9" fill="#fff" stroke="#444" stroke-width="0.8"/>
<circle cx="388.25" cy="338.50" r="1.9" fill="#fff" stroke="#444" stroke-width="0.8"/>
<circle cx="388.25" cy="346.40" r="1.9" fill="#fff" stroke="#444" stroke-width="0.8"/>
<circle cx="407.25" cy="346.40" r="1.9" fill="#fff" stroke="#444" stroke-width="0.8"/>
<circle cx="407.25" cy="358.40" r="1.9" fill="#fff" stroke="#444" stroke-width="0.8"/>
<circle cx="426.25" cy="358.40" r="1.9" fill="#fff" stroke="#444" stroke-width="0.8"/>
<circle cx="426.25" cy="370.40" r="1.9" fill="#fff" stroke="#444" stroke-width="0.8"/>
<circle cx="445.25" cy="370.40" r="1.9" fill="#fff" stroke="#444" stroke-width="0.8"/>
<circle cx="445.25" cy="374.40" r="1.9" fill="#fff" stroke="#444" stroke-width="0.8"/>
<circle cx="464.25" cy="374.40" r="1.9" fill="#fff" stroke="#444" stroke-width="0.8"/>
<circle cx="483.25" cy="374.40" r="1.9" fill="#fff" stroke="#444" stroke-width="0.8"/>
<path d="M331.25,324.70L333.75,329.10L328.75,329.10Z" fill="#fff" stroke="#444" stroke-width="0.8"/>
<path d="M350.25,324.70L352.75,329.10L347.75,329.10Z" fill="#fff" stroke="#444" stroke-width="0.8"/>
<path d="M350.25,328.10L352.75,332.50L347.75,332.50Z" fill="#fff" stroke="#444" stroke-width="0.8"/>
<path d="M369.25,328.10L371.75,332.50L366.75,332.50Z" fill="#fff" stroke="#444" stroke-width="0.8"/>
<path d="M369.25,330.80L371.75,335.20L366.75,335.20Z" fill="#fff" stroke="#444" stroke-width="0.8"/>
<path d="M388.25,330.80L390.75,335.20L385.75,335.20Z" fill="#fff" stroke="#444" stroke-width="0.8"/>
<path d="M388.25,336.30L390.75,340.70L385.75,340.70Z" fill="#fff" stroke="#444" stroke-width="0.8"/>
<path d="M407.25,336.30L409.75,340.70L404.75,340.70Z" fill="#fff" stroke="#444" stroke-width="0.8"/>
<path d="M407.25,351.00L409.75,355.40L404.75,355.40Z" fill="#fff" stroke="#444" stroke-width="0.8"/>
<path d="M426.25,351.00L428.75,355.40L423.75,355.40Z" fill="#fff" stroke="#444" stroke-width="0.8"/>
<path d="M445.25,351.00L447.75,355.40L442.75,355.40Z" fill="#fff" stroke="#444" stroke-width="0.8"/>
<path d="M464.25,351.00L466.75,355.40L461.75,355.40Z" fill="#fff" stroke="#444" stroke-width="0.8"/>
<path d="M483.25,351.00L485.75,355.40L480.75,355.40Z" fill="#fff" stroke="#444" stroke-width="0.8"/>
<circle cx="331.25" cy="326.90" r="1.9" fill="#fff" stroke="#444" stroke-width="0.8"/>
<circle cx="350.25" cy="326.70" r="1.9" fill="#fff" stroke="#444" stroke-width="0.8"/>
<line x1="393.40" y1="307.30" x2="408.90" y2="307.30" stroke="#555" stroke-width="1" stroke-linecap="butt"/>
<path d="M400.90,304.90L403.30,307.30L400.90,309.70L398.50,307.30Z" fill="#000"/>
<line x1="393.40" y1="317.70" x2="408.90" y2="317.70" stroke="#777" stroke-width="1" stroke-linecap="butt"/>
<circle cx="400.90" cy="317.70" r="1.9" fill="#fff" stroke="#444" stroke-width="0.8"/>
<line x1="393.40" y1="329.40" x2="408.90" y2="329.40" stroke="#777" stroke-width="1" stroke-linecap="butt"/>
<path d="M400.90,327.20L403.40,331.60L398.40,331.60Z" fill="#fff" stroke="#444" stroke-width="0.8"/>
<text x="411.10" y="309.50" font-size="7.35" font-weight="normal" text-anchor="start" fill="#222">anti-GITR</text>
<text x="411.10" y="319.90" font-size="7.35" font-weight="normal" text-anchor="start" fill="#222">Control Ab</text>
<text x="411.10" y="331.60" font-size="7.35" font-weight="normal" text-anchor="start" fill="#222">anti-CD25 + anti-GITR</text>
<text x="487.60" y="350.70" font-size="8.8" font-weight="bold" text-anchor="start" fill="#000">60%</text>
<text x="487.60" y="358.60" font-size="8.8" font-weight="bold" text-anchor="start" fill="#000">55%</text>
<text x="488.00" y="377.90" font-size="8.8" font-weight="bold" text-anchor="start" fill="#000">20%</text>
<polyline points="507.9,354.6 511.9,354.6 511.9,375.5 507.9,375.5" fill="none" stroke="#777" stroke-width="1"/>
<text x="516.60" y="372.20" font-size="14.5" font-weight="bold" text-anchor="middle" fill="#000">*</text>
</svg>
</body></html>
